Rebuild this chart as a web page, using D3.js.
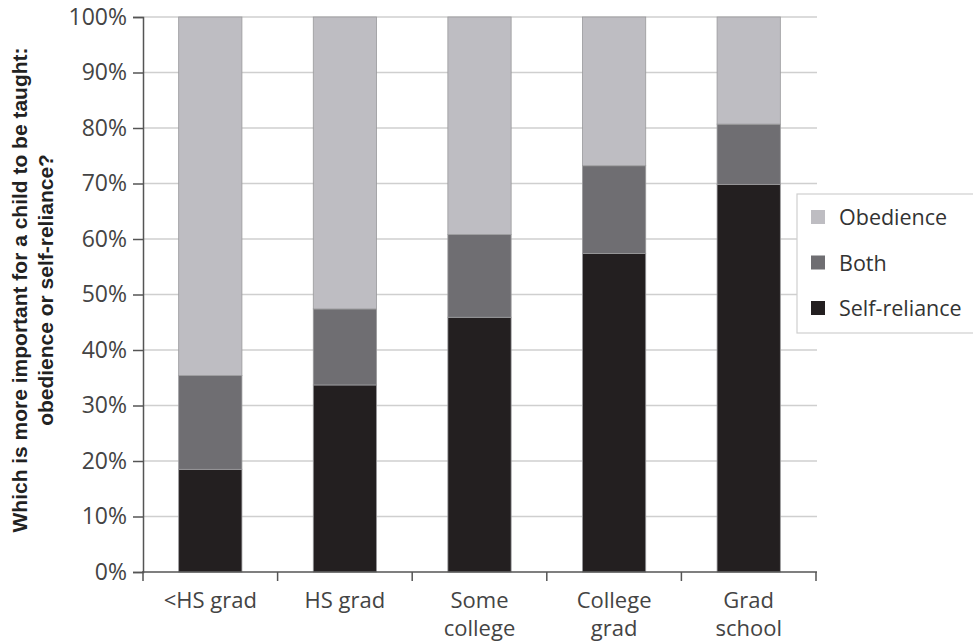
<!DOCTYPE html>
<html>
<head>
<meta charset="utf-8">
<script src="https://cdn.jsdelivr.net/npm/d3@7"></script>
<style>
  body { margin: 0; background: #fff; }
  svg text { font-family: "Open Sans", Lato, sans-serif; }
</style>
</head>
<body>
<div id="chart"></div>
<script>
// education levels and share answering each option (percent)
const categories = ['<HS grad', 'HS grad', 'Some college', 'College grad', 'Grad school'];
const categoryLines = [['<HS grad'], ['HS grad'], ['Some', 'college'], ['College', 'grad'], ['Grad', 'school']];
const selfReliance = [18.5, 33.7, 45.9, 57.4, 69.8];
const both = [16.9, 13.7, 14.9, 15.8, 10.9];
const obedience = [64.6, 52.6, 39.2, 26.8, 19.3];
const seriesNames = ['Self-reliance', 'Both', 'Obedience'];
const legendOrder = ['Obedience', 'Both', 'Self-reliance'];
const yTicks = [0, 10, 20, 30, 40, 50, 60, 70, 80, 90, 100];
const yTitle = ['Which is more important for a child to be taught:', 'obedience or self-reliance?'];

const colors = {
  'Self-reliance': '#231f20',
  'Both': '#6f6e72',
  'Obedience': '#bebdc2'
};

const width = 973;
const height = 642;
const plotLeft = 143, plotRight = 816, plotTop = 17, plotBottom = 572;

const svg = d3.select('#chart').append('svg')
  .attr('width', width)
  .attr('height', height);

const rows = categories.map((c, i) => ({
  category: c,
  'Self-reliance': selfReliance[i],
  'Both': both[i],
  'Obedience': obedience[i]
}));
const stacked = d3.stack().keys(seriesNames)(rows);

const x = d3.scaleBand()
  .domain(categories)
  .range([plotLeft, plotRight])
  .paddingInner(0.53)
  .paddingOuter(0.265);

const y = d3.scaleLinear()
  .domain([0, 100])
  .range([plotBottom, plotTop]);

// gridlines
svg.append('g')
  .selectAll('line')
  .data(yTicks.slice(1))
  .join('line')
  .attr('x1', plotLeft)
  .attr('x2', plotRight + 1)
  .attr('y1', d => y(d))
  .attr('y2', d => y(d))
  .attr('stroke', '#cfcfcf')
  .attr('stroke-width', 1.5);

// bars
svg.append('g')
  .selectAll('g')
  .data(stacked)
  .join('g')
  .attr('fill', d => colors[d.key])
  .selectAll('rect')
  .data(d => d)
  .join('rect')
  .attr('x', d => x(d.data.category))
  .attr('width', x.bandwidth())
  .attr('y', d => y(d[1]))
  .attr('height', d => y(d[0]) - y(d[1]))
  .attr('stroke', '#9a9a9c')
  .attr('stroke-width', 0.8);

// y axis
const yAxis = svg.append('g')
  .attr('transform', `translate(${plotLeft},0)`)
  .call(d3.axisLeft(y).tickValues(yTicks).tickFormat(d => d + '%').tickSize(10).tickPadding(6));
yAxis.select('.domain').attr('stroke', '#555').attr('stroke-width', 1.5);
yAxis.selectAll('.tick line').attr('stroke', '#555').attr('stroke-width', 1.5);
yAxis.selectAll('.tick text')
  .attr('fill', '#444')
  .style('font-size', '23px');

// x axis
svg.append('line')
  .attr('x1', plotLeft - 1)
  .attr('x2', plotRight + 1)
  .attr('y1', plotBottom)
  .attr('y2', plotBottom)
  .attr('stroke', '#555')
  .attr('stroke-width', 1.5);

const step = x.step();
const boundaries = categories.map(c => x(c) - step * x.paddingInner() / 2)
  .concat([x(categories[categories.length - 1]) + x.bandwidth() + step * x.paddingInner() / 2]);
svg.append('g')
  .selectAll('line')
  .data(boundaries)
  .join('line')
  .attr('x1', d => d)
  .attr('x2', d => d)
  .attr('y1', plotBottom)
  .attr('y2', plotBottom + 9)
  .attr('stroke', '#555')
  .attr('stroke-width', 1.5);

const xLabels = svg.append('g')
  .selectAll('text')
  .data(categories)
  .join('text')
  .attr('x', d => x(d) + x.bandwidth() / 2)
  .attr('y', 608)
  .attr('text-anchor', 'middle')
  .attr('fill', '#444')
  .style('font-size', '22px');
xLabels.selectAll('tspan')
  .data((d, i) => categoryLines[i])
  .join('tspan')
  .attr('x', function() { return d3.select(this.parentNode).attr('x'); })
  .attr('dy', (d, i) => i === 0 ? 0 : 28)
  .text(d => d);

// y title, squeezed to look condensed
const title = svg.append('text')
  .attr('transform', 'translate(0,290) rotate(-90)')
  .attr('text-anchor', 'middle')
  .attr('fill', '#222')
  .style('font-family', '"Liberation Sans", Arial, sans-serif')
  .style('font-weight', 'bold')
  .style('font-size', '21px');
const titleLines = title.selectAll('tspan')
  .data(yTitle)
  .join('tspan')
  .attr('x', 0)
  .attr('y', (d, i) => 27 + i * 26)
  .text(d => d);
const natural = titleLines.nodes().map(n => n.getComputedTextLength());
const squeeze = 485 / natural[0];
titleLines
  .attr('textLength', (d, i) => natural[i] * squeeze)
  .attr('lengthAdjust', 'spacingAndGlyphs');

// legend
const legend = svg.append('g');
legend.append('rect')
  .attr('x', 797)
  .attr('y', 194)
  .attr('width', 200)
  .attr('height', 139)
  .attr('fill', '#fff')
  .attr('stroke', '#cfcfcf')
  .attr('stroke-width', 1.2);
const items = legend.selectAll('g.item')
  .data(legendOrder)
  .join('g')
  .attr('class', 'item')
  .attr('transform', (d, i) => `translate(811,${210 + i * 45.5})`);
items.append('rect')
  .attr('width', 14)
  .attr('height', 14)
  .attr('fill', d => colors[d]);
items.append('text')
  .attr('x', 28)
  .attr('y', 15)
  .attr('fill', '#333')
  .style('font-size', '21.5px')
  .text(d => d);
</script>
</body>
</html>
